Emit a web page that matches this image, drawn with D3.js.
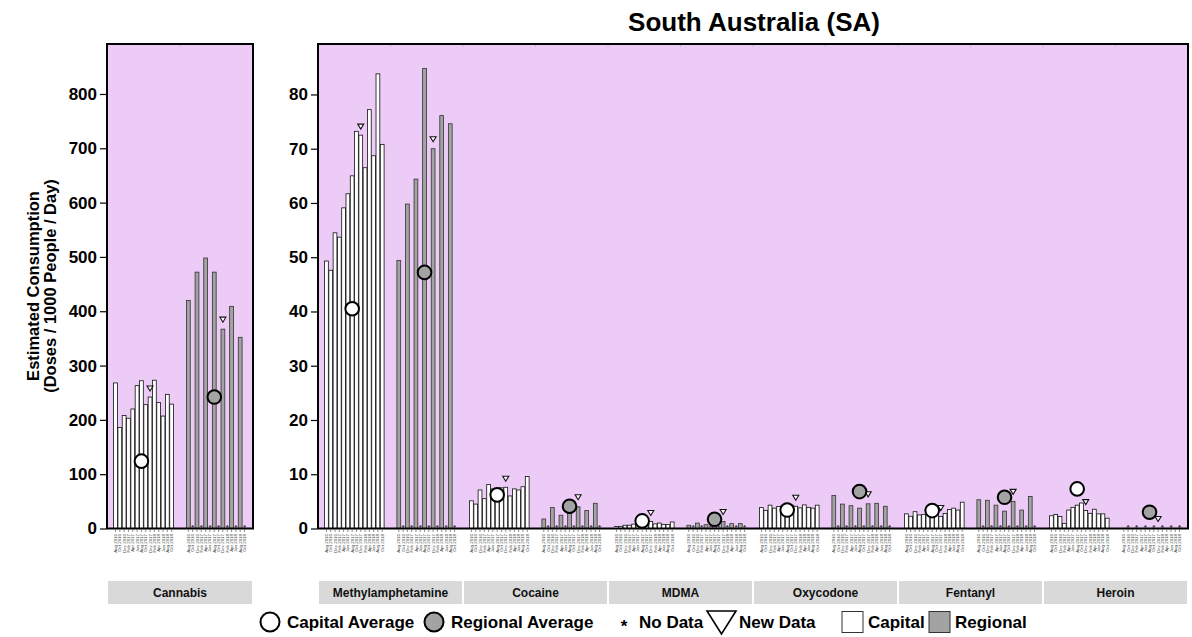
<!DOCTYPE html>
<html>
<head>
<meta charset="utf-8">
<script src="https://cdn.jsdelivr.net/npm/d3@7"></script>
<style>
  html, body { margin: 0; padding: 0; background: #ffffff; }
  svg { display: block; font-family: "Liberation Sans", Arial, Helvetica, sans-serif; }
</style>
</head>
<body>
<svg id="chart" width="1192" height="637"></svg>
<script>
// Sampling periods (14 capital slots; regional sampled every second period)
const periods = ["Aug 2016","Oct 2016","Dec 2016","Feb 2017","Apr 2017","Jun 2017","Aug 2017",
                 "Oct 2017","Dec 2017","Feb 2018","Apr 2018","Jun 2018","Aug 2018","Oct 2018"];
const drugs = ["Cannabis","Methylamphetamine","Cocaine","MDMA","Oxycodone","Fentanyl","Heroin"];

// Capital city values, one per period
const cannabisCapital = [268, 186, 208, 203, 220, 263, 272, 228, 242, 273, 232, 207, 247, 229];
const methCapital     = [49.3, 47.6, 54.5, 53.7, 59.1, 61.7, 65.0, 73.2, 72.5, 66.5, 77.2, 68.7, 83.8, 70.8];
const cocaineCapital  = [5.1, 4.5, 7.1, 5.5, 8.1, 7.3, 7.0, 7.5, 7.6, 6.0, 7.3, 7.1, 7.7, 9.6];
const mdmaCapital     = [0.35, 0.4, 0.6, 0.6, 0.8, 0.9, 1.0, 1.4, 1.3, 0.85, 1.0, 0.75, 0.75, 1.2];
const oxyCapital      = [3.85, 3.35, 4.3, 3.75, 4.05, 4.2, 4.0, 4.3, 4.1, 3.8, 4.35, 3.9, 3.75, 4.3];
const fentanylCapital = [2.7, 2.25, 3.1, 2.5, 2.6, 3.0, 3.3, 3.0, 2.2, 2.75, 3.5, 3.75, 3.4, 4.85];
const heroinCapital   = [2.35, 2.6, 2.2, 0.95, 3.4, 3.9, 4.3, 4.7, 3.3, 2.8, 3.55, 2.7, 2.7, 1.9];

// Regional values, one per sampled period (even slots)
const cannabisRegional = [420, 472, 498, 472, 367, 409, 352];
const methRegional     = [49.4, 59.8, 64.4, 84.8, 70.0, 76.1, 74.6];
const cocaineRegional  = [1.75, 3.85, 2.45, 2.8, 4.0, 3.3, 4.65];
const mdmaRegional     = [0.6, 1.0, 0.7, 0.9, 1.3, 0.9, 0.9];
const oxyRegional      = [6.1, 4.5, 4.2, 3.75, 4.55, 4.65, 4.1];
const fentanylRegional = [5.3, 5.2, 4.3, 3.2, 5.0, 3.4, 5.9];
const heroinRegional   = [0, 0, 0, 0, 0, 0, 0];

// Averages per drug
const capitalAverage  = [124, 40.5, 6.2, 1.4, 3.4, 3.3, 7.3];
const regionalAverage = [242, 47.2, 4.1, 1.7, 6.8, 5.75, 3.0];

// Axis ticks
const cannabisTicks = [0, 100, 200, 300, 400, 500, 600, 700, 800];
const mainTicks     = [0, 10, 20, 30, 40, 50, 60, 70, 80];

// Slot of the most recent sample (flagged as new data) and of the average markers
const newDataSlot = 8;
const avgSlot = 6;

const capitalSeries  = [cannabisCapital, methCapital, cocaineCapital, mdmaCapital, oxyCapital, fentanylCapital, heroinCapital];
const regionalSeries = [cannabisRegional, methRegional, cocaineRegional, mdmaRegional, oxyRegional, fentanylRegional, heroinRegional];

// ---- layout ----
const svg = d3.select("#chart");
const plotTop = 44, plotBottom = 528.5;
const panelBg = "#ECCBF7";
const capFill = "#ffffff", regFill = "#a3a3a3";
const fontFamily = "Liberation Sans, Arial, sans-serif";

const yCann = d3.scaleLinear().domain([0, 892]).range([plotBottom, plotTop]);
const yMain = d3.scaleLinear().domain([0, 89.3]).range([plotBottom, plotTop]);

// facet positions: cannabis on its own panel, the rest share one panel
const cannPanel = {x0: 107, x1: 253};
const mainPanel = {x0: 318, x1: 1188};
const facetScale = d3.scaleBand().domain(drugs.slice(1)).range([mainPanel.x0, mainPanel.x1]).padding(0);

function facetRange(i) {
  if (i === 0) return [cannPanel.x0, cannPanel.x1];
  const x = facetScale(drugs[i]);
  return [x, x + facetScale.bandwidth()];
}

const groups = ["Capital", "Regional"];
const slots = d3.range(14);

// panel backgrounds
[cannPanel, mainPanel].forEach(p => {
  svg.append("rect").attr("x", p.x0).attr("y", plotTop).attr("width", p.x1 - p.x0).attr("height", plotBottom - plotTop)
    .attr("fill", panelBg);
});

drugs.forEach((drug, i) => {
  const [fx0, fx1] = facetRange(i);
  const y = i === 0 ? yCann : yMain;
  const gx = d3.scaleBand().domain(groups).range([fx0, fx1]).paddingInner(0.17).paddingOuter(0.087);
  const sx = {
    Capital: d3.scaleBand().domain(slots).range([gx("Capital"), gx("Capital") + gx.bandwidth()]).paddingInner(0.12).paddingOuter(0.06),
    Regional: d3.scaleBand().domain(slots).range([gx("Regional"), gx("Regional") + gx.bandwidth()]).paddingInner(0.12).paddingOuter(0.06)
  };
  const g = svg.append("g").attr("class", "facet");

  // faint facet separators at the top edge
  g.append("line").attr("x1", (fx0 + fx1) / 2).attr("x2", (fx0 + fx1) / 2).attr("y1", plotTop).attr("y2", plotTop + 3)
    .attr("stroke", "#bdbdbd").attr("stroke-width", 1);
  if (i > 1) g.append("line").attr("x1", fx0).attr("x2", fx0).attr("y1", plotTop).attr("y2", plotTop + 3)
    .attr("stroke", "#bdbdbd").attr("stroke-width", 1);

  const capData = capitalSeries[i].map((v, k) => ({slot: k, v}));
  const regData = regionalSeries[i].map((v, k) => ({slot: k * 2, v}));
  const noData = slots.filter(s => s % 2 === 1);

  g.selectAll("rect.cap").data(capData).join("rect").attr("class", "cap")
    .attr("x", d => sx.Capital(d.slot)).attr("width", sx.Capital.bandwidth())
    .attr("y", d => y(d.v)).attr("height", d => y(0) - y(d.v))
    .attr("fill", capFill).attr("stroke", "#111").attr("stroke-width", 0.8);

  g.selectAll("rect.reg").data(regData.filter(d => d.v > 0)).join("rect").attr("class", "reg")
    .attr("x", d => sx.Regional(d.slot)).attr("width", sx.Regional.bandwidth())
    .attr("y", d => y(d.v)).attr("height", d => y(0) - y(d.v))
    .attr("fill", regFill).attr("stroke", "#333").attr("stroke-width", 0.8);

  // no-data markers
  g.selectAll("text.nd").data(noData).join("text").attr("class", "nd")
    .attr("x", s => sx.Regional(s) + sx.Regional.bandwidth() / 2).attr("y", plotBottom + 1.5)
    .attr("text-anchor", "middle").attr("font-size", 8).attr("font-weight", "bold").attr("fill", "#333")
    .text("*");

  // new-data triangles
  const tri = (cx, cy) => `M${cx - 3},${cy - 2.5}L${cx + 3},${cy - 2.5}L${cx},${cy + 2.5}Z`;
  const capNew = capitalSeries[i][newDataSlot];
  const regNew = regionalSeries[i][newDataSlot / 2];
  g.append("path").attr("d", tri(sx.Capital(newDataSlot) + sx.Capital.bandwidth() / 2, y(capNew) - 8.5))
    .attr("fill", "#fff").attr("stroke", "#111").attr("stroke-width", 1.1);
  g.append("path").attr("d", tri(sx.Regional(newDataSlot) + sx.Regional.bandwidth() / 2, y(regNew) - 9.5))
    .attr("fill", "#fff").attr("stroke", "#111").attr("stroke-width", 1.1);

  // averages
  g.append("circle").attr("cx", sx.Capital(avgSlot) + sx.Capital.bandwidth() / 2).attr("cy", y(capitalAverage[i]))
    .attr("r", 6.8).attr("fill", "#fff").attr("stroke", "#000").attr("stroke-width", 2);
  g.append("circle").attr("cx", sx.Regional(avgSlot) + sx.Regional.bandwidth() / 2).attr("cy", y(regionalAverage[i]))
    .attr("r", 6.8).attr("fill", regFill).attr("stroke", "#000").attr("stroke-width", 2);

  // x ticks and tiny period labels
  groups.forEach(grp => {
    const s = sx[grp];
    const ax = d3.axisBottom(s).tickSize(2.5).tickFormat(k => periods[k]);
    const a = g.append("g").attr("transform", `translate(0,${plotBottom + 1})`).call(ax);
    a.select(".domain").remove();
    a.selectAll(".tick line").attr("stroke", "#444").attr("stroke-width", 0.6);
    a.selectAll(".tick text")
      .attr("font-size", 4.4).attr("fill", "#444").attr("font-family", fontFamily)
      .attr("transform", "rotate(-90)").attr("text-anchor", "end")
      .attr("x", -4.5).attr("y", 0).attr("dy", "0.35em");
  });

  // strip label
  g.append("rect").attr("x", fx0 + 1).attr("y", 581).attr("width", fx1 - fx0 - 2).attr("height", 23)
    .attr("fill", "#d9d9d9");
  g.append("text").attr("x", (fx0 + fx1) / 2).attr("y", 596.5).attr("text-anchor", "middle")
    .attr("font-size", 12).attr("font-weight", "bold").attr("fill", "#111").text(drug);
});

// panel borders
[cannPanel, mainPanel].forEach(p => {
  svg.append("rect").attr("x", p.x0).attr("y", plotTop).attr("width", p.x1 - p.x0).attr("height", plotBottom - plotTop)
    .attr("fill", "none").attr("stroke", "#000").attr("stroke-width", 2);
});

// y axes
function yAxis(scale, ticks, x) {
  const a = svg.append("g").attr("transform", `translate(${x},0)`)
    .call(d3.axisLeft(scale).tickValues(ticks).tickSize(6).tickPadding(3));
  a.select(".domain").remove();
  a.selectAll(".tick line").attr("stroke", "#000").attr("stroke-width", 1.2);
  a.selectAll(".tick text").attr("font-size", 17).attr("font-weight", "bold").attr("fill", "#000")
    .attr("font-family", fontFamily);
}
yAxis(yCann, cannabisTicks, cannPanel.x0 - 1);
yAxis(yMain, mainTicks, mainPanel.x0 - 1);

// y-axis title
const yt = svg.append("text").attr("transform", "translate(0,286) rotate(-90)")
  .attr("text-anchor", "middle").attr("font-size", 16.5).attr("font-weight", "bold").attr("fill", "#000");
yt.append("tspan").attr("x", 0).attr("y", 39).text("Estimated Consumption");
yt.append("tspan").attr("x", 0).attr("y", 56).text("(Doses / 1000 People / Day)");

// title
svg.append("text").attr("x", 754).attr("y", 31).attr("text-anchor", "middle")
  .attr("font-size", 26).attr("font-weight", "bold").attr("fill", "#000").text("South Australia (SA)");

// legend
const lg = svg.append("g").attr("font-size", 17).attr("font-weight", "bold").attr("fill", "#000");
const ly = 622;
lg.append("circle").attr("cx", 270).attr("cy", ly).attr("r", 9.5).attr("fill", "#fff").attr("stroke", "#000").attr("stroke-width", 2);
lg.append("text").attr("x", 287).attr("y", ly + 6).text("Capital Average");
lg.append("circle").attr("cx", 434).attr("cy", ly).attr("r", 9.5).attr("fill", regFill).attr("stroke", "#000").attr("stroke-width", 2);
lg.append("text").attr("x", 451).attr("y", ly + 6).text("Regional Average");
lg.append("text").attr("x", 624).attr("y", ly + 10).attr("text-anchor", "middle").text("*");
lg.append("text").attr("x", 639).attr("y", ly + 6).text("No Data");
lg.append("path").attr("d", "M707,611L736,611L721.5,634Z").attr("fill", "#fff").attr("stroke", "#000").attr("stroke-width", 1.6);
lg.append("text").attr("x", 739).attr("y", ly + 6).text("New Data");
lg.append("rect").attr("x", 842).attr("y", 611.5).attr("width", 21).attr("height", 21).attr("fill", "#fff").attr("stroke", "#333").attr("stroke-width", 1);
lg.append("text").attr("x", 868).attr("y", ly + 6).text("Capital");
lg.append("rect").attr("x", 929).attr("y", 611.5).attr("width", 21).attr("height", 21).attr("fill", regFill).attr("stroke", "#333").attr("stroke-width", 1);
lg.append("text").attr("x", 955).attr("y", ly + 6).text("Regional");
</script>
</body>
</html>
